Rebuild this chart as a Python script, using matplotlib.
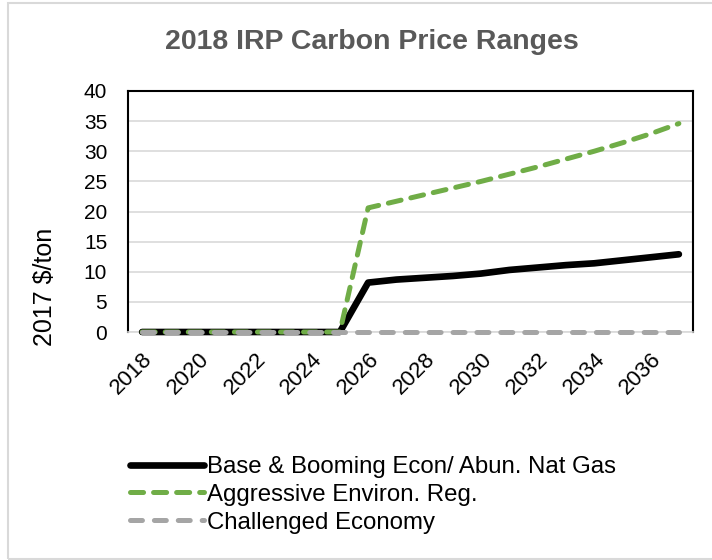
import matplotlib
matplotlib.use("Agg")
import matplotlib.pyplot as plt
from matplotlib.patches import Rectangle

plt.rcParams['font.family'] = ['Liberation Sans', 'DejaVu Sans']
plt.rcParams['lines.scale_dashes'] = False

years = list(range(2018, 2038))
base = [0, 0, 0, 0, 0, 0, 0, 0, 8.2, 8.7, 9.0, 9.3, 9.7, 10.3, 10.7, 11.1, 11.4, 11.9, 12.4, 12.9]
aggressive = [0, 0, 0, 0, 0, 0, 0, 0, 20.6, 21.7, 22.8, 23.9, 25.0, 26.2, 27.4, 28.7, 30.0, 31.4, 32.9, 34.6]
challenged = [0] * 20
tick_years = list(range(2018, 2037, 2))
series_names = ["Base & Booming Econ/ Abun. Nat Gas", "Aggressive Environ. Reg.", "Challenged Economy"]

W, H = 712, 560
fig = plt.figure(figsize=(W / 100, H / 100), dpi=100)
ax = fig.add_axes([128 / W, 1 - 332 / H, (693 - 128) / W, (332 - 91) / H])

x = list(range(len(years)))
ax.plot(x, base, color='black', lw=4.8, solid_capstyle='round', zorder=3, clip_on=False,
        label=series_names[0])
ax.plot(x, aggressive, color='#70ad47', lw=3.6, dashes=(9.4, 7.2), dash_capstyle='round', zorder=4,
        clip_on=False, label=series_names[1])
ax.plot(x, challenged, color='#a5a5a5', lw=3.6, dashes=(8.6, 8.6), dash_capstyle='round', zorder=5,
        clip_on=False, label=series_names[2])

ax.set_xlim(-0.5, len(years) - 0.5)
ax.set_ylim(0, 40)
ax.set_yticks(range(0, 41, 5))
ax.tick_params(axis='y', length=0, labelsize=15, pad=15)
ax.set_xticks([years.index(t) for t in tick_years])
ax.set_xticklabels([str(t) for t in tick_years], rotation=45, ha='right', rotation_mode='anchor', fontsize=16)
ax.tick_params(axis='x', length=0, pad=12)
ax.grid(axis='y', color='#d9d9d9', lw=1.2, zorder=0)
ax.set_axisbelow(True)
for s in ['left', 'right', 'top']:
    ax.spines[s].set_color('black')
    ax.spines[s].set_linewidth(1.5)
ax.spines['bottom'].set_color('#d9d9d9')
ax.spines['bottom'].set_linewidth(1.2)

fig.text(372 / W, 1 - 42 / H, "2018 IRP Carbon Price Ranges", ha='center', va='center',
         fontsize=20.5, fontweight='bold', color='#595959')
fig.text(45 / W, 1 - 287 / H, "2017 $/ton", rotation=90, ha='center', va='center', fontsize=18)

handles, labels = ax.get_legend_handles_labels()
fig.legend(handles, labels, loc='upper left', bbox_to_anchor=(130 / W, 1 - 456 / H), frameon=False,
           fontsize=17.3, handlelength=3.1, handletextpad=0.1, labelspacing=0.24, borderaxespad=0,
           borderpad=0)

fig.patches.append(Rectangle((8 / W, 1 / H), 720 / W, 556 / H, transform=fig.transFigure,
                             fill=False, edgecolor='#d9d9d9', lw=1.5))

fig.savefig("out.png", dpi=100)
